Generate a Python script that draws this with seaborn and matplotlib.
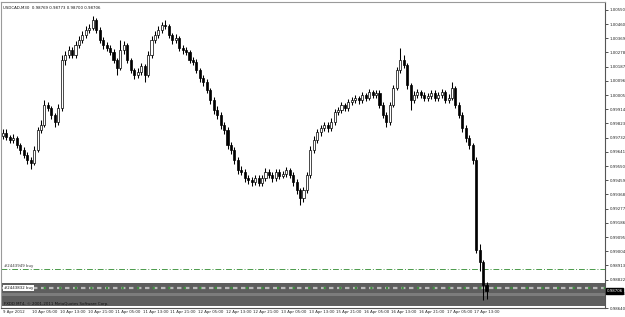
import matplotlib
matplotlib.use("Agg")
import matplotlib.pyplot as plt
import seaborn as sns
import numpy as np
import pandas as pd

# ---------------- data ----------------
title_text = "USDCAD,M30  0.98769 0.98773 0.98700 0.98706"
copyright_text = "FXDD MT4, \u00a9 2001-2011 MetaQuotes Software Corp."

opens = [0.99745, 0.99762, 0.99736, 0.99717, 0.99730, 0.99685, 0.99653, 0.99621, 0.99589, 0.99569,
         0.99653, 0.99781, 0.99813, 0.99941, 0.99922, 0.99877, 0.99832, 0.99922, 1.00230, 1.00262,
         1.00294, 1.00262, 1.00326, 1.00358, 1.00390, 1.00422, 1.00435, 1.00486, 1.00422, 1.00358,
         1.00326, 1.00306, 1.00281, 1.00230, 1.00178, 1.00294, 1.00326, 1.00230, 1.00165, 1.00133,
         1.00153, 1.00191, 1.00133, 1.00262, 1.00358, 1.00390, 1.00422, 1.00454, 1.00448, 1.00390,
         1.00358, 1.00371, 1.00306, 1.00294, 1.00281, 1.00230, 1.00217, 1.00165, 1.00114, 1.00089,
         1.00037, 0.99973, 0.99909, 0.99877, 0.99813, 0.99781, 0.99685, 0.99653, 0.99589, 0.99524,
         0.99512, 0.99473, 0.99460, 0.99448, 0.99473, 0.99441, 0.99473, 0.99512, 0.99492, 0.99473,
         0.99512, 0.99486, 0.99499, 0.99524, 0.99492, 0.99448, 0.99396, 0.99345, 0.99396, 0.99492,
         0.99653, 0.99717, 0.99768, 0.99794, 0.99813, 0.99794, 0.99832, 0.99896, 0.99909, 0.99941,
         0.99922, 0.99960, 0.99973, 0.99986, 0.99973, 1.00005, 0.99986, 1.00024, 1.00005, 1.00018,
         0.99941, 0.99877, 0.99832, 0.99941, 1.00050, 1.00165, 1.00230, 1.00197, 1.00069, 0.99973,
         1.00005, 1.00024, 1.00005, 0.99986, 0.99999, 1.00018, 0.99986, 1.00005, 1.00024, 0.99973,
         0.99986, 1.00050, 0.99941, 0.99877, 0.99794, 0.99730, 0.99685, 0.99589, 0.99012, 0.98935,
         0.98787]
closes = [0.99762, 0.99736, 0.99717, 0.99730, 0.99685, 0.99653, 0.99621, 0.99589, 0.99569, 0.99653,
          0.99781, 0.99813, 0.99941, 0.99922, 0.99877, 0.99832, 0.99922, 1.00230, 1.00262, 1.00294,
          1.00262, 1.00326, 1.00358, 1.00390, 1.00422, 1.00435, 1.00486, 1.00422, 1.00358, 1.00326,
          1.00306, 1.00281, 1.00230, 1.00178, 1.00294, 1.00326, 1.00230, 1.00165, 1.00133, 1.00153,
          1.00191, 1.00133, 1.00262, 1.00358, 1.00390, 1.00422, 1.00454, 1.00448, 1.00390, 1.00358,
          1.00371, 1.00306, 1.00294, 1.00281, 1.00230, 1.00217, 1.00165, 1.00114, 1.00089, 1.00037,
          0.99973, 0.99909, 0.99877, 0.99813, 0.99781, 0.99685, 0.99653, 0.99589, 0.99524, 0.99512,
          0.99473, 0.99460, 0.99448, 0.99473, 0.99441, 0.99473, 0.99512, 0.99492, 0.99473, 0.99512,
          0.99486, 0.99499, 0.99524, 0.99492, 0.99448, 0.99396, 0.99345, 0.99396, 0.99492, 0.99653,
          0.99717, 0.99768, 0.99794, 0.99813, 0.99794, 0.99832, 0.99896, 0.99909, 0.99941, 0.99922,
          0.99960, 0.99973, 0.99986, 0.99973, 1.00005, 0.99986, 1.00024, 1.00005, 1.00018, 0.99941,
          0.99877, 0.99832, 0.99941, 1.00050, 1.00165, 1.00230, 1.00197, 1.00069, 0.99973, 1.00005,
          1.00024, 1.00005, 0.99986, 0.99999, 1.00018, 0.99986, 1.00005, 1.00024, 0.99973, 0.99986,
          1.00050, 0.99941, 0.99877, 0.99794, 0.99730, 0.99685, 0.99589, 0.99012, 0.98935, 0.98787,
          0.98750]
highs = [0.99790, 0.99785, 0.99750, 0.99755, 0.99745, 0.99700, 0.99670, 0.99640, 0.99610, 0.99675,
         0.99800, 0.99845, 0.99975, 0.99960, 0.99935, 0.99890, 0.99950, 1.00260, 1.00290, 1.00320,
         1.00315, 1.00350, 1.00380, 1.00415, 1.00445, 1.00460, 1.00512, 1.00500, 1.00440, 1.00375,
         1.00345, 1.00325, 1.00300, 1.00245, 1.00358, 1.00350, 1.00340, 1.00245, 1.00180, 1.00175,
         1.00210, 1.00205, 1.00285, 1.00380, 1.00415, 1.00445, 1.00475, 1.00486, 1.00460, 1.00405,
         1.00395, 1.00385, 1.00325, 1.00310, 1.00295, 1.00250, 1.00235, 1.00180, 1.00135, 1.00105,
         1.00050, 0.99990, 0.99935, 0.99895, 0.99830, 0.99800, 0.99705, 0.99670, 0.99605, 0.99550,
         0.99530, 0.99495, 0.99480, 0.99495, 0.99490, 0.99495, 0.99535, 0.99530, 0.99510, 0.99530,
         0.99530, 0.99520, 0.99545, 0.99540, 0.99510, 0.99465, 0.99410, 0.99415, 0.99510, 0.99675,
         0.99740, 0.99790, 0.99815, 0.99835, 0.99830, 0.99855, 0.99915, 0.99930, 0.99960, 0.99955,
         0.99980, 0.99995, 1.00005, 1.00000, 1.00025, 1.00020, 1.00045, 1.00040, 1.00040, 1.00035,
         0.99960, 0.99895, 0.99960, 1.00070, 1.00185, 1.00307, 1.00260, 1.00210, 1.00085, 1.00030,
         1.00045, 1.00040, 1.00025, 1.00020, 1.00040, 1.00035, 1.00025, 1.00045, 1.00040, 1.00010,
         1.00089, 1.00065, 0.99960, 0.99895, 0.99810, 0.99750, 0.99700, 0.99610, 0.99050, 0.98950,
         0.98805]
lows = [0.99725, 0.99715, 0.99695, 0.99700, 0.99665, 0.99630, 0.99600, 0.99565, 0.99530, 0.99555,
        0.99640, 0.99760, 0.99800, 0.99900, 0.99850, 0.99800, 0.99815, 0.99905, 1.00200, 1.00240,
        1.00240, 1.00245, 1.00305, 1.00340, 1.00370, 1.00400, 1.00420, 1.00400, 1.00340, 1.00300,
        1.00285, 1.00260, 1.00210, 1.00133, 1.00165, 1.00270, 1.00210, 1.00145, 1.00110, 1.00115,
        1.00135, 1.00089, 1.00120, 1.00245, 1.00340, 1.00370, 1.00400, 1.00425, 1.00370, 1.00335,
        1.00340, 1.00285, 1.00270, 1.00260, 1.00210, 1.00195, 1.00145, 1.00090, 1.00065, 1.00015,
        0.99950, 0.99885, 0.99850, 0.99790, 0.99755, 0.99660, 0.99630, 0.99565, 0.99500, 0.99490,
        0.99450, 0.99435, 0.99425, 0.99430, 0.99420, 0.99425, 0.99455, 0.99470, 0.99450, 0.99455,
        0.99465, 0.99470, 0.99480, 0.99470, 0.99425, 0.99370, 0.99300, 0.99320, 0.99380, 0.99475,
        0.99635, 0.99700, 0.99745, 0.99775, 0.99770, 0.99775, 0.99815, 0.99875, 0.99890, 0.99900,
        0.99905, 0.99940, 0.99955, 0.99950, 0.99955, 0.99965, 0.99970, 0.99985, 0.99985, 0.99920,
        0.99855, 0.99800, 0.99815, 0.99925, 1.00035, 1.00145, 1.00175, 1.00045, 0.99909, 0.99955,
        0.99985, 0.99985, 0.99965, 0.99965, 0.99980, 0.99965, 0.99965, 0.99985, 0.99955, 0.99955,
        0.99970, 0.99920, 0.99855, 0.99770, 0.99705, 0.99660, 0.99560, 0.98990, 0.98880, 0.98690,
        0.98700]

time_labels = ["9 Apr 2012", "10 Apr 05:00", "10 Apr 13:00", "10 Apr 21:00", "11 Apr 05:00",
               "11 Apr 13:00", "11 Apr 21:00", "12 Apr 05:00", "12 Apr 13:00", "12 Apr 21:00",
               "13 Apr 05:00", "13 Apr 13:00", "15 Apr 21:00", "16 Apr 05:00", "16 Apr 13:00",
               "16 Apr 21:00", "17 Apr 05:00", "17 Apr 13:00"]
price_ticks = [1.00550, 1.00460, 1.00369, 1.00278, 1.00187, 1.00096, 1.00005, 0.99914, 0.99823,
               0.99732, 0.99641, 0.99550, 0.99459, 0.99368, 0.99277, 0.99186, 0.99095, 0.99004,
               0.98913, 0.98822, 0.98731, 0.98640]
current_price_label = "0.98706"

order1_label = "#2443949 buy"
order1_price = 0.98890
order2_label = "#2443832 buy"
order2_price = 0.98768
band_top = 0.98800
band_bottom = 0.98650
band_stripe = (0.98738, 0.98718)

# ---------------- figure ----------------
sns.set_theme(style="white")
SMALL = ['Liberation Sans Narrow', 'DejaVu Sans']
plt.rcParams['font.family'] = SMALL
FS = 2.8

W, H = 625, 317
fig = plt.figure(figsize=(W / 100, H / 100), dpi=100)
fig.patch.set_facecolor("white")
ax = fig.add_axes([1 / W, (H - 308) / H, 604 / W, (308 - 2) / H])
ax.set_facecolor("white")

df = pd.DataFrame({"open": opens, "high": highs, "low": lows, "close": closes})
df["idx"] = np.arange(len(df))
df["bull"] = df["close"] >= df["open"]

# band and order lines (behind candles)
ax.axhspan(band_bottom, band_top, color="#5e5e5e", lw=0, zorder=1)
ax.axhspan(band_stripe[1], band_stripe[0], color="#7c7c7c", lw=0, zorder=1)
ax.axhline(order2_price, color="#b9b9b9", lw=1.6, ls=(0, (2.0, 1.6)), zorder=2)
ax.axhline(order2_price, color="#3f8f3f", lw=1.6, ls=(1.8, (1.0, 6.0)), zorder=2)
ax.axhline(order1_price, color="#4a9a4a", lw=0.7, ls=(0, (6, 2, 1, 2)), zorder=2)

# candles
ax.vlines(df["idx"], df["low"], df["high"], color="black", lw=0.75, zorder=3)
bodies = np.abs(df["close"] - df["open"]).clip(lower=0.00004)
bottoms = np.minimum(df["close"], df["open"])
colors = np.where(df["bull"], "white", "black")
ax.bar(df["idx"], bodies, bottom=bottoms, width=0.6, color=colors,
       edgecolor="black", linewidth=0.5, zorder=4)

ax.set_xlim(-0.58, 174.3)
ax.set_ylim(0.98640, 1.00601)

# spines
for s in ["left", "top"]:
    ax.spines[s].set_color("#9a9a9a")
    ax.spines[s].set_linewidth(0.8)
for s in ["right", "bottom"]:
    ax.spines[s].set_color("#555555")
    ax.spines[s].set_linewidth(0.8)

# y axis on right
ax.yaxis.tick_right()
ax.set_yticks(price_ticks)
ax.set_yticklabels([f"{p:.5f}" for p in price_ticks])
ax.tick_params(axis="y", direction="out", length=2.5, width=0.6, color="#333333",
               labelsize=FS, labelcolor="#222222", pad=1.0)

# x axis ticks
xt = np.arange(0, 8 * len(time_labels), 8)
ax.set_xticks(xt[1:])
ax.set_xticklabels([])
ax.tick_params(axis="x", direction="out", length=2.5, width=0.6, color="#333333")
for i, (pos, lab) in enumerate(zip(xt, time_labels)):
    ax.annotate(lab, xy=(pos, 0), xycoords=("data", "axes fraction"),
                xytext=(1.2 if i else 0.3, -1.8), textcoords="offset points",
                ha="left", va="top", fontsize=FS, color="#222222")

# texts
ax.text(0.004, 0.988, title_text, transform=ax.transAxes, ha="left", va="top",
        fontsize=FS, color="#111111")
ax.annotate(order1_label, xy=(0, order1_price), xycoords=("axes fraction", "data"),
            xytext=(2, 1.0), textcoords="offset points", ha="left", va="bottom",
            fontsize=FS, color="#333333")
ax.annotate(order2_label, xy=(0, order2_price), xycoords=("axes fraction", "data"),
            xytext=(2, 0), textcoords="offset points", ha="left", va="center",
            fontsize=FS, color="#111111",
            bbox=dict(boxstyle="square,pad=0.15", fc="white", ec="none"))
ax.annotate(copyright_text, xy=(0, 0), xycoords="axes fraction",
            xytext=(2, 1.5), textcoords="offset points", ha="left", va="bottom",
            fontsize=FS, color="#111111")

# current price box
ax.annotate(current_price_label, xy=(1, closes[-1]), xycoords=("axes fraction", "data"),
            xytext=(1.0, 0), textcoords="offset points", ha="left", va="center",
            fontsize=FS, color="white",
            bbox=dict(boxstyle="square,pad=0.2", fc="black", ec="black"))

fig.savefig("out.png", dpi=100, facecolor="white")
